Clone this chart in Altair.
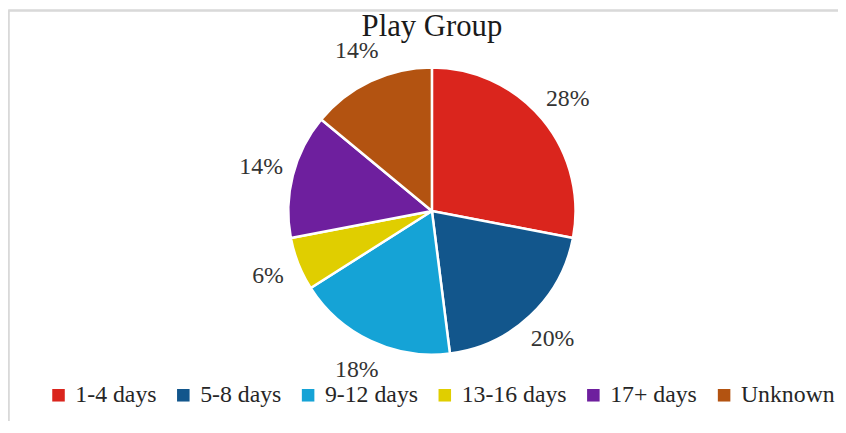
import altair as alt
import pandas as pd

categories = ["1-4 days", "5-8 days", "9-12 days", "13-16 days", "17+ days", "Unknown"]
values = [28, 20, 18, 6, 14, 14]
labels = ["28%", "20%", "18%", "6%", "14%", "14%"]
colors = ["#DA251D", "#12568C", "#15A3D6", "#E0CE00", "#6E1F9E", "#B35311"]

df = pd.DataFrame({
    "cat": categories,
    "value": values,
    "label": labels,
    "order": list(range(len(categories))),
})

FONT = "Liberation Serif"
PAD_TOP = 40
W, H = 838, 375
CX, CY = 428, 211 - 8 - PAD_TOP

base = alt.Chart(df).encode(
    theta=alt.Theta("value:Q", stack=True),
    order=alt.Order("order:Q", sort="ascending"),
)

pie = base.mark_arc(outerRadius=145, stroke="white", strokeWidth=2.5).encode(
    x=alt.value(CX),
    y=alt.value(CY),
    color=alt.Color(
        "cat:N",
        scale=alt.Scale(domain=categories, range=colors),
        legend=alt.Legend(
            title=None,
            orient="none",
            legendX=39,
            legendY=337,
            direction="horizontal",
            symbolType="square",
            symbolSize=160,
            symbolStrokeWidth=0,
            labelFont=FONT,
            labelFontSize=24,
            labelColor="#262626",
            columnPadding=15,
            labelOffset=5,
            padding=0,
        ),
    ),
)

text = base.mark_text(radius=178, font=FONT, fontSize=24, color="#333333").encode(
    text="label:N",
    x=alt.value(CX),
    y=alt.value(CY),
)

frame_top = alt.Chart(df).mark_rule(color="#D9D9D9", strokeWidth=1.5).encode(
    x=alt.value(0.5), x2=alt.value(W), y=alt.value(-PAD_TOP + 0.5)
)
frame_left = alt.Chart(df).mark_rule(color="#D9D9D9", strokeWidth=1.5).encode(
    x=alt.value(0.5), y=alt.value(-PAD_TOP + 0.5), y2=alt.value(H)
)

chart = alt.layer(frame_top, frame_left, pie, text).properties(
    width=W,
    height=H,
    autosize=alt.AutoSizeParams(type="none"),
    padding={"top": PAD_TOP, "left": 0, "right": 0, "bottom": 0},
    title=alt.TitleParams(
        "Play Group",
        font=FONT,
        fontSize=31,
        fontWeight="normal",
        color="#1a1a1a",
        anchor="middle",
        offset=-34,
        dx=9,
    ),
).configure(
    font=FONT
).configure_legend(
    labelFont=FONT
).configure_text(
    font=FONT
).configure_view(stroke=None)

chart.save("out.html", embed_options={"renderer": "svg", "actions": False})
